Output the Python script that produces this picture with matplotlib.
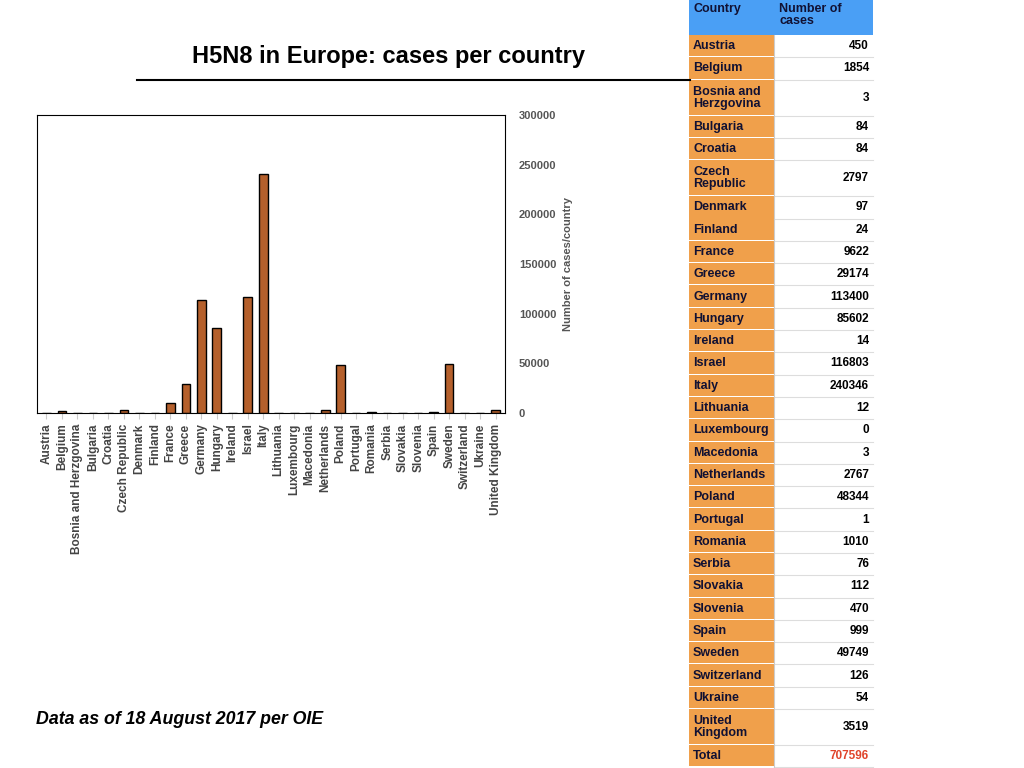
import matplotlib.pyplot as plt
from matplotlib.patches import Rectangle

countries = ['Austria', 'Belgium', 'Bosnia and Herzgovina', 'Bulgaria', 'Croatia', 'Czech Republic',
             'Denmark', 'Finland', 'France', 'Greece', 'Germany', 'Hungary', 'Ireland', 'Israel',
             'Italy', 'Lithuania', 'Luxembourg', 'Macedonia', 'Netherlands', 'Poland', 'Portugal',
             'Romania', 'Serbia', 'Slovakia', 'Slovenia', 'Spain', 'Sweden', 'Switzerland',
             'Ukraine', 'United Kingdom']
cases = [450, 1854, 3, 84, 84, 2797, 97, 24, 9622, 29174, 113400, 85602, 14, 116803, 240346,
         12, 0, 3, 2767, 48344, 1, 1010, 76, 112, 470, 999, 49749, 126, 54, 3519]
table_names = ['Austria', 'Belgium', 'Bosnia and\nHerzgovina', 'Bulgaria', 'Croatia', 'Czech\nRepublic',
               'Denmark', 'Finland', 'France', 'Greece', 'Germany', 'Hungary', 'Ireland', 'Israel',
               'Italy', 'Lithuania', 'Luxembourg', 'Macedonia', 'Netherlands', 'Poland', 'Portugal',
               'Romania', 'Serbia', 'Slovakia', 'Slovenia', 'Spain', 'Sweden', 'Switzerland',
               'Ukraine', 'United\nKingdom']
table_vals = [450, 1854, 3, 84, 84, 2797, 97, 24, 9622, 29174, 113400, 85602, 14, 116803, 240346,
              12, 0, 3, 2767, 48344, 1, 1010, 76, 112, 470, 999, 49749, 126, 54, 3519]
total = 707596

W, H = 1024, 768
fig = plt.figure(figsize=(W / 100, H / 100), dpi=100)
plt.rcParams['font.family'] = ['Liberation Sans', 'DejaVu Sans']

ax = fig.add_axes([37 / W, 1 - 413 / H, 468 / W, 298 / H])
ax.bar(range(len(countries)), cases, width=0.55, color='#b5602c', edgecolor='black', linewidth=1)
ax.set_xlim(-0.6, len(countries) - 0.4)
ax.set_ylim(0, 300000)
ax.set_xticks(range(len(countries)))
ax.set_xticklabels(countries, rotation=90, fontsize=8.5, fontweight='bold', color='#444444')
ax.yaxis.tick_right()
ax.yaxis.set_label_position('right')
ax.set_yticks(range(0, 300001, 50000))
ax.set_yticklabels([str(v) for v in range(0, 300001, 50000)], fontsize=8, fontweight='bold', color='#555555')
ax.tick_params(axis='y', length=0, pad=10)
ax.tick_params(axis='x', length=4, color='#cccccc')
ax.set_ylabel('Number of cases/country', fontsize=8, fontweight='bold', color='#555555', labelpad=5)
for s in ax.spines.values():
    s.set_linewidth(0.8)

fig.text(388 / W, 1 - 57 / H, 'H5N8 in Europe: cases per country', ha='center', va='center',
         fontsize=17, fontweight='bold')
fig.add_artist(plt.Line2D([137 / W, 690 / W], [1 - 80 / H, 1 - 80 / H], color='black', lw=1.5))
fig.text(36 / W, 1 - 720 / H, 'Data as of 18 August 2017 per OIE', ha='left', va='center',
         fontsize=12.8, fontweight='bold', style='italic')

# table drawn in pixel coordinates
x0, x1, x2 = 689, 774, 873

def rect(x, y, w, h, color):
    fig.add_artist(Rectangle((x / W, 1 - (y + h) / H), w / W, h / H, transform=fig.transFigure,
                             facecolor=color, edgecolor='none'))

rect(x0, 0, x2 - x0, 35, '#4a9ff5')
fig.text((x0 + 4) / W, 1 - 3 / H, 'Country', fontsize=9, fontweight='bold', va='top', color='#111133')
fig.text((x1 + 5) / W, 1 - 3 / H, 'Number of\ncases', fontsize=9, fontweight='bold', va='top',
         color='#111133', linespacing=1.0)
y = 35
rows = list(zip(table_names, [str(v) for v in table_vals])) + [('Total', str(total))]
for name, val in rows:
    h = 36 if '\n' in name else 22.3
    rect(x0, y, x1 - x0, h - 1, '#f0a04b')
    fig.add_artist(plt.Line2D([x1 / W, x2 / W], [1 - (y + h) / H] * 2, color='#dddddd', lw=0.8))
    fig.text((x0 + 4) / W, 1 - (y + h / 2) / H, name, fontsize=9, fontweight='bold', va='center',
             color='#111133', linespacing=1.0)
    fig.text((x2 - 4) / W, 1 - (y + h / 2) / H, val, fontsize=8.5, fontweight='bold', va='center',
             ha='right', color='#e0442b' if name == 'Total' else 'black')
    y += h
fig.add_artist(plt.Line2D([x1 / W, x1 / W], [0, 1 - 35 / H], color='#cccccc', lw=0.8))

fig.savefig('out.png', dpi=100)
